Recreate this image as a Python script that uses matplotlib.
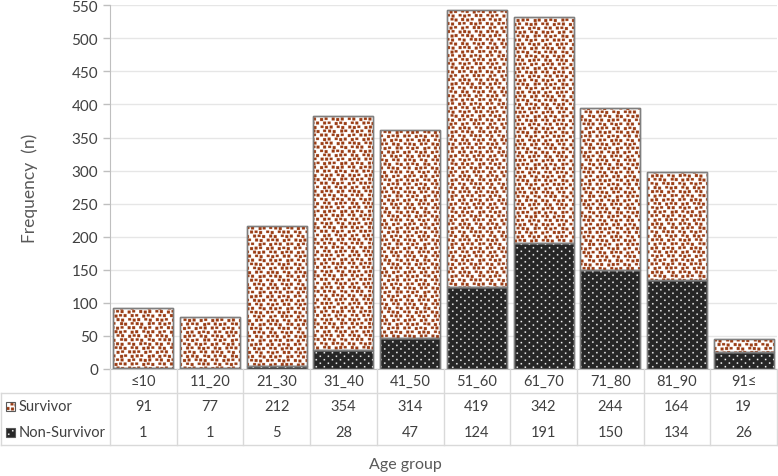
import matplotlib
matplotlib.use("Agg")
import matplotlib.pyplot as plt
from matplotlib.transforms import blended_transform_factory
from matplotlib.lines import Line2D
from matplotlib.patches import Rectangle
from matplotlib.colors import to_rgba
import numpy as np

categories = ["≤10", "11_20", "21_30", "31_40", "41_50", "51_60", "61_70", "71_80", "81_90", "91≤"]
survivor = [91, 77, 212, 354, 314, 419, 342, 244, 164, 19]
non_survivor = [1, 1, 5, 28, 47, 124, 191, 150, 134, 26]
series_names = ["Survivor", "Non-Survivor"]
yticks = [0, 50, 100, 150, 200, 250, 300, 350, 400, 450, 500, 550]

plt.rcParams['font.family'] = ['Lato', 'DejaVu Sans']
W, H = 778, 477
fig = plt.figure(figsize=(W/100, H/100), dpi=100)
ax = fig.add_axes([110/W, 1-370/H, (777-110)/W, (370-6.3)/H])

BROWN = "#9A3C14"
DARK = "#262626"
EDGE = "#7f7f7f"
GRID = "#e6e6e6"
TXT = "#404040"
FS = 10.5
SS = 2  # supersampling for texture

# fixed jitter tables for the confetti texture style
JX = np.array([[0, 3, 1, 4, 2], [2, 0, 4, 1, 3], [4, 2, 0, 3, 1], [1, 4, 2, 0, 3]])
JY = np.array([[0, 1, 2, 0, 1, 2, 1], [2, 0, 1, 1, 0, 2, 0], [1, 2, 0, 2, 1, 0, 2]])


def surv_mask(r, c):
    r, c = np.broadcast_arrays(r, c)
    ti = r // 8
    cs = c + 5 * (ti % 2)
    tj = cs // 11
    lr = r % 8
    lc = cs % 11
    dx = (JX[ti % 4, tj % 5] - 2) // 1
    dy = JY[ti % 3, tj % 7] - 1
    return (lr - dy >= 0) & (lr - dy < 6) & (lc - dx - 2 >= 0) & (lc - dx - 2 < 6)


def dark_mask(r, c):
    a = ((r % 14) < 3) & ((c % 16) < 3)
    b = (((r + 7) % 14) < 3) & (((c + 8) % 16) < 3)
    return a | b


def texture(px0, py_top, wpx, hpx, maskfn, color):
    rows = (np.arange(int(np.ceil(hpx * SS))) + int(round(py_top * SS)))[:, None]
    cols = (np.arange(int(np.ceil(wpx * SS))) + int(round(px0 * SS)))[None, :]
    m = maskfn(rows, cols)
    img = np.zeros(m.shape + (4,))
    img[..., :] = to_rgba(color)
    img[..., 3] = m.astype(float)
    return img


x = np.arange(len(categories))
bw = 0.9
ax.set_xlim(-0.5, len(categories) - 0.5)
ax.set_ylim(0, 550)

nb = ax.bar(x, non_survivor, bw, color=DARK, edgecolor=EDGE, linewidth=1.0, zorder=2)
sb = ax.bar(x, survivor, bw, bottom=non_survivor, color="white", edgecolor=EDGE, linewidth=1.0, zorder=2)

for bars, maskfn, col in [(nb, dark_mask, "white"), (sb, surv_mask, BROWN)]:
    for p in bars:
        x0, y0 = p.get_x(), p.get_y()
        x1, y1 = x0 + p.get_width(), y0 + p.get_height()
        (dx0, dy0), (dx1, dy1) = ax.transData.transform([(x0, y0), (x1, y1)])
        wpx, hpx = dx1 - dx0, dy1 - dy0
        if hpx < 0.5:
            continue
        img = texture(dx0, H - dy1, wpx, hpx, maskfn, col)
        im = ax.imshow(img, extent=(x0, x1, y0, y1), origin="upper", aspect="auto",
                       interpolation="antialiased", interpolation_stage="rgba", zorder=2.5)
        im.set_clip_path(p)

# outlines on top
ax.bar(x, non_survivor, bw, fill=False, edgecolor=EDGE, linewidth=1.0, zorder=3)
ax.bar(x, survivor, bw, bottom=non_survivor, fill=False, edgecolor=EDGE, linewidth=1.0, zorder=3)

ax.set_xlim(-0.5, len(categories) - 0.5)
ax.set_ylim(0, 550)
ax.set_yticks(yticks)
ax.yaxis.grid(True, color=GRID, linewidth=1.0, zorder=0)
ax.set_axisbelow(True)
for s in ["top", "right"]:
    ax.spines[s].set_visible(False)
ax.spines["left"].set_color("#bfbfbf")
ax.spines["bottom"].set_color("#bfbfbf")
ax.tick_params(axis="y", colors="#bfbfbf", labelcolor=TXT, labelsize=FS + 0.5, length=5, width=1)
ax.set_xticks([])
ax.tick_params(axis="x", length=0)

# Data table
tr = blended_transform_factory(ax.transData, fig.transFigure)
fy = lambda py: 1 - py / H
fx = lambda px: px / W
tcol = "#d9d9d9"
for b in np.arange(len(categories) + 1) - 0.5:
    fig.add_artist(Line2D([b, b], [fy(370), fy(446)], transform=tr, color=tcol, lw=1))
for py in [394, 446]:
    fig.add_artist(Line2D([fx(1), fx(777)], [fy(py), fy(py)], transform=fig.transFigure, color=tcol, lw=1))
fig.add_artist(Line2D([fx(1), fx(1)], [fy(394), fy(446)], transform=fig.transFigure, color=tcol, lw=1))

for i, c in enumerate(categories):
    fig.text(i, fy(382), c, transform=tr, ha="center", va="center", fontsize=FS, color=TXT)
    fig.text(i, fy(407.5), str(survivor[i]), transform=tr, ha="center", va="center", fontsize=FS, color=TXT)
    fig.text(i, fy(433), str(non_survivor[i]), transform=tr, ha="center", va="center", fontsize=FS, color=TXT)

# legend keys in table
def key(py_top, maskfn, bg, col):
    ax_k = fig.add_axes([fx(6), fy(py_top + 9), 9/W, 9/H])
    ax_k.set_xlim(0, 1); ax_k.set_ylim(0, 1)
    ax_k.axis("off")
    ax_k.add_patch(Rectangle((0, 0), 1, 1, facecolor=bg, edgecolor="none", zorder=1))
    img = texture(6, py_top, 9, 9, maskfn, col)
    ax_k.imshow(img, extent=(0, 1, 0, 1), origin="upper", aspect="auto",
                interpolation="antialiased", interpolation_stage="rgba", zorder=2)
    ax_k.add_patch(Rectangle((0, 0), 1, 1, fill=False, edgecolor="#595959", lw=0.8, clip_on=False, zorder=3))

key(403, surv_mask, "white", BROWN)
key(428.5, dark_mask, DARK, "white")
fig.text(fx(19), fy(407.5), series_names[0], ha="left", va="center", fontsize=FS, color=TXT)
fig.text(fx(19), fy(433), series_names[1], ha="left", va="center", fontsize=FS, color=TXT)

fig.text(fx(30), fy(188), "Frequency  (n)", rotation=90, ha="center", va="center", fontsize=12.5, color="#595959")
fig.text(fx(405), fy(465), "Age group", ha="center", va="center", fontsize=11.5, color="#595959")

fig.savefig("out.png", dpi=100)
